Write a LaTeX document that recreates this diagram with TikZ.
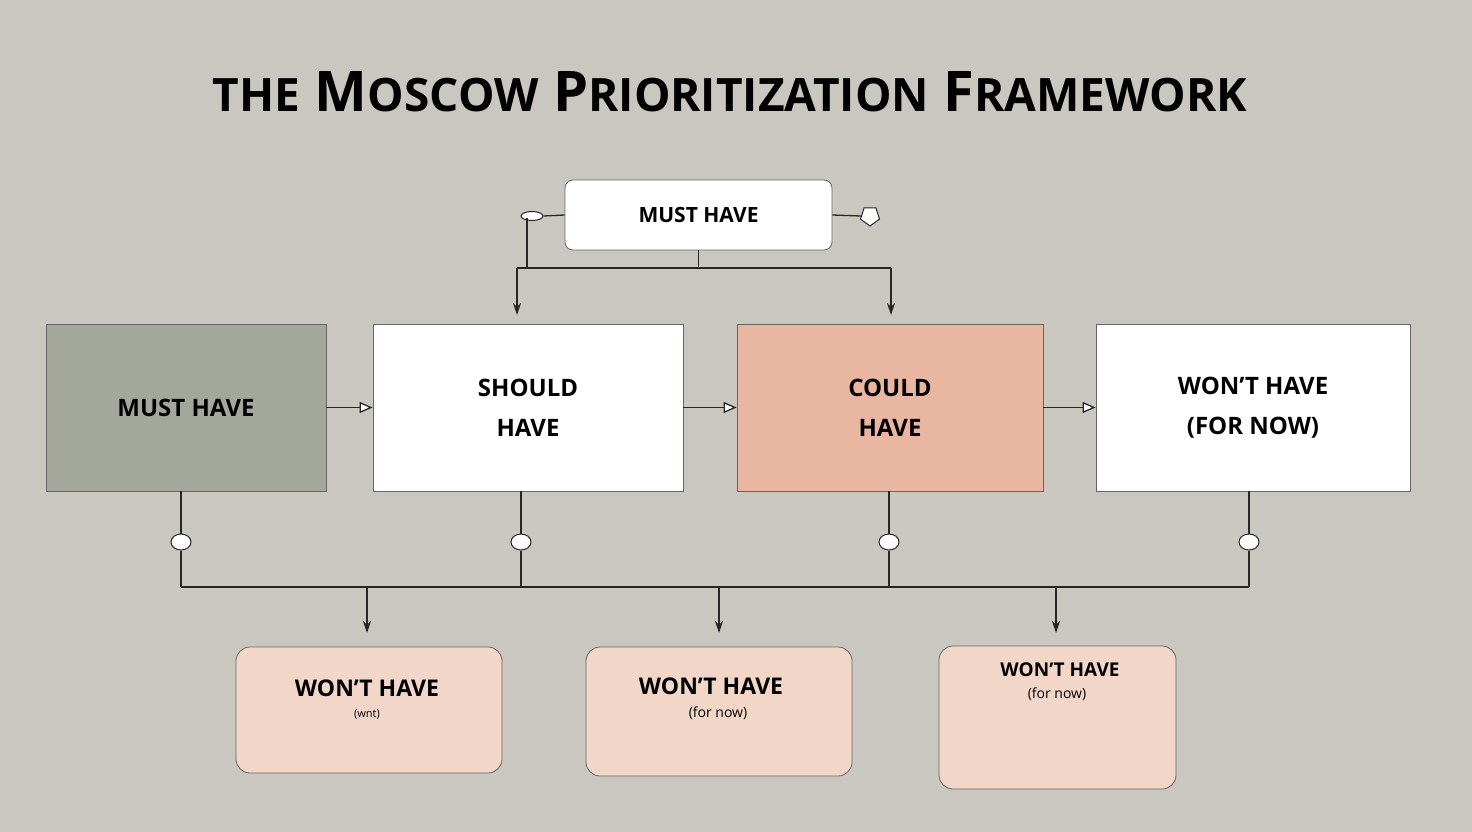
\documentclass[tikz,border=0pt]{standalone}
\usepackage{fontspec}
\setmainfont{Open Sans}
\usetikzlibrary{arrows.meta,shapes.geometric}
\definecolor{bg}{HTML}{C9C7C0}
\definecolor{sage}{HTML}{A4A89C}
\definecolor{coral}{HTML}{E8B6A1}
\definecolor{peach}{HTML}{F2D6C8}
\newcommand{\Sm}[1]{{\fontsize{46}{50}\selectfont #1}}
\tikzset{
 box/.style={draw=black!60,line width=0.8pt,inner sep=0pt,align=center,font=\fontsize{24}{40}\selectfont\bfseries},
 conn/.style={line width=1.3pt,black!85},
 arr/.style={conn,-{Stealth[length=12pt,width=8pt]}},
 tri/.style={conn,-{Triangle[open,length=13pt,width=11pt,fill=white]}},
 oval/.style={draw=black!85,fill=white,line width=1pt,ellipse,minimum width=20pt,minimum height=16pt,inner sep=0pt},
}
\begin{document}
\begin{tikzpicture}[x=1pt,y=-1pt]
\fill[bg] (0,0) rectangle (1472,832);
\useasboundingbox (0,0) rectangle (1472,832);
\node (title) at (730,92) {\fontsize{56}{60}\selectfont\bfseries\Sm{THE} M\Sm{OSCOW} P\Sm{RIORITIZATION} F\Sm{RAMEWORK}};
% top
\node[box,fill=white,rounded corners=8pt,minimum width=267pt,minimum height=70pt,font=\fontsize{21}{26}\selectfont\bfseries] (top) at (698.5,215) {MUST HAVE};
\node[oval,minimum width=22pt,minimum height=9pt] (lo) at (532,216) {};
\node[draw=black!85,fill=white,line width=1pt,regular polygon,regular polygon sides=5,shape border rotate=180,minimum size=20pt,inner sep=0pt] (ro) at (870,216) {};
\draw[conn] (top.west) -- (lo.east);
\draw[conn] (top.east) -- (ro.west);
\coordinate (tj) at (698.5,268);
\draw[conn] (top.south) -- (tj);
\draw[conn] (527,218) -- (527,268);
\draw[conn] (517,268) -- (891,268);
% row
\node[box,fill=sage,minimum width=280pt,minimum height=167pt] (a) at (186,407.5) {MUST HAVE};
\node[box,fill=white,minimum width=310pt,minimum height=167pt] (b) at (528,407.5) {SHOULD\\HAVE};
\node[box,fill=coral,minimum width=306pt,minimum height=167pt] (c) at (890,407.5) {COULD\\HAVE};
\node[box,fill=white,minimum width=314pt,minimum height=167pt] (d) at (1253,407.5) {WON’T HAVE\\(FOR NOW)};
\draw[arr] (517,268) -- (517,315);
\draw[arr] (891,268) -- (891,315);
\draw[tri] (a.east) -- (b.west);
\draw[tri] (b.east) -- (c.west);
\draw[tri] (c.east) -- (d.west);
% bottom bus
\foreach \n/\x in {a/181,b/521,c/889,d/1249}{
 \node[oval] (o\n) at (\x,542) {};
 \draw[conn] (\x,491) -- (o\n.north);
 \draw[conn] (o\n.south) -- (\x,587);
}
\draw[conn] (181,587) -- (1249,587);
% bottom boxes
\tikzset{pb/.style={draw=black!60,line width=0.8pt,fill=peach,rounded corners=14pt}}
\draw[pb] (236,647) rectangle (502,773);
\draw[pb] (586,647) rectangle (852,776);
\draw[pb] (939,646) rectangle (1176,789);
\node[font=\fontsize{23}{26}\selectfont\bfseries] (w1) at (367,688) {WON’T HAVE};
\node[font=\fontsize{11}{13}\selectfont] (s1) at (367,714) {(wnt)};
\node[font=\fontsize{23}{26}\selectfont\bfseries] (w2) at (711,686) {WON’T HAVE};
\node[font=\fontsize{14}{16}\selectfont] (s2) at (718,713) {(for now)};
\node[font=\fontsize{19}{22}\selectfont\bfseries] (w3) at (1060,670) {WON’T HAVE};
\node[font=\fontsize{14}{16}\selectfont] (s3) at (1057,694) {(for now)};
\draw[arr] (367,587) -- (367,633);
\draw[arr] (719,587) -- (719,633);
\draw[arr] (1056,587) -- (1056,633);
\end{tikzpicture}
\end{document}
